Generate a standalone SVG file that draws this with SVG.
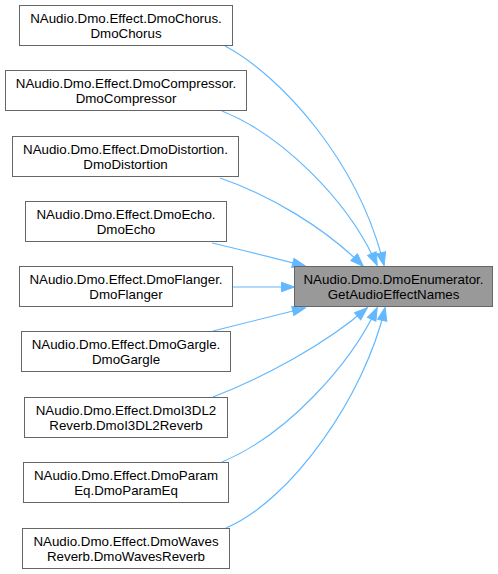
<svg xmlns="http://www.w3.org/2000/svg" width="498" height="574" viewBox="0 0 498 574">
<style>
.node rect{fill:#ffffff;stroke:#666666;stroke-width:1}
.node.main rect{fill:#999999}
.node text{font-family:"Liberation Sans",Arial,Helvetica,sans-serif;font-size:13.33px;fill:#000000;text-anchor:middle}
.edges path{fill:none;stroke:#63b8ff;stroke-width:1.2}
</style>
<defs>
<marker id="arrow" viewBox="0 0 13 9.4" markerWidth="13" markerHeight="9.4" refX="12.5" refY="4.7" orient="auto" markerUnits="userSpaceOnUse" overflow="visible">
<path d="M0,0 L13,4.7 L0,9.4 z" fill="#63b8ff" stroke="#63b8ff" stroke-width="1"/>
</marker>
</defs>
<rect width="498" height="574" fill="#ffffff"/>
<g id="edges" class="edges">
<path marker-end="url(#arrow)" d="M225,46 C280,75 358,160 384,265"/>
<path marker-end="url(#arrow)" d="M222,111 C282,135 348,200 377,265"/>
<path marker-end="url(#arrow)" d="M220,178 C270,195 325,228 363,266"/>
<path marker-end="url(#arrow)" d="M212,243 C238,249 270,257 305,266"/>
<path marker-end="url(#arrow)" d="M233,287 L294,287"/>
<path marker-end="url(#arrow)" d="M213,331 C240,324 272,316 305,308"/>
<path marker-end="url(#arrow)" d="M213,397 C262,378 325,345 367,308"/>
<path marker-end="url(#arrow)" d="M222,462 C287,435 350,365 377,308"/>
<path marker-end="url(#arrow)" d="M226,528 C292,500 365,395 385,308"/>
</g>
<g id="node-main" class="node main">
<rect x="294.5" y="266.5" width="198" height="40"/>
<text x="393.5" y="284">NAudio.Dmo.DmoEnumerator.</text>
<text x="393.5" y="299">GetAudioEffectNames</text>
</g>
<g id="node-chorus" class="node">
<rect x="19.5" y="5.5" width="213" height="40"/>
<text x="126" y="23">NAudio.Dmo.Effect.DmoChorus.</text>
<text x="126" y="38">DmoChorus</text>
</g>
<g id="node-compressor" class="node">
<rect x="5.5" y="70.5" width="241" height="40"/>
<text x="126" y="88">NAudio.Dmo.Effect.DmoCompressor.</text>
<text x="126" y="103">DmoCompressor</text>
</g>
<g id="node-distortion" class="node">
<rect x="12.5" y="136.5" width="226" height="40"/>
<text x="125.5" y="154">NAudio.Dmo.Effect.DmoDistortion.</text>
<text x="125.5" y="169">DmoDistortion</text>
</g>
<g id="node-echo" class="node">
<rect x="25.5" y="201.5" width="201" height="40"/>
<text x="126" y="219">NAudio.Dmo.Effect.DmoEcho.</text>
<text x="126" y="234">DmoEcho</text>
</g>
<g id="node-flanger" class="node">
<rect x="19.5" y="266.5" width="213" height="40"/>
<text x="126" y="284">NAudio.Dmo.Effect.DmoFlanger.</text>
<text x="126" y="299">DmoFlanger</text>
</g>
<g id="node-gargle" class="node">
<rect x="21.5" y="331.5" width="209" height="40"/>
<text x="126" y="349">NAudio.Dmo.Effect.DmoGargle.</text>
<text x="126" y="364">DmoGargle</text>
</g>
<g id="node-i3dl2" class="node">
<rect x="24.5" y="397.5" width="203" height="40"/>
<text x="126" y="415">NAudio.Dmo.Effect.DmoI3DL2</text>
<text x="126" y="430">Reverb.DmoI3DL2Reverb</text>
</g>
<g id="node-parameq" class="node">
<rect x="23.5" y="462.5" width="205" height="40"/>
<text x="126" y="480">NAudio.Dmo.Effect.DmoParam</text>
<text x="126" y="495">Eq.DmoParamEq</text>
</g>
<g id="node-waves" class="node">
<rect x="22.5" y="528.5" width="207" height="40"/>
<text x="126" y="546">NAudio.Dmo.Effect.DmoWaves</text>
<text x="126" y="561">Reverb.DmoWavesReverb</text>
</g>
</svg>
